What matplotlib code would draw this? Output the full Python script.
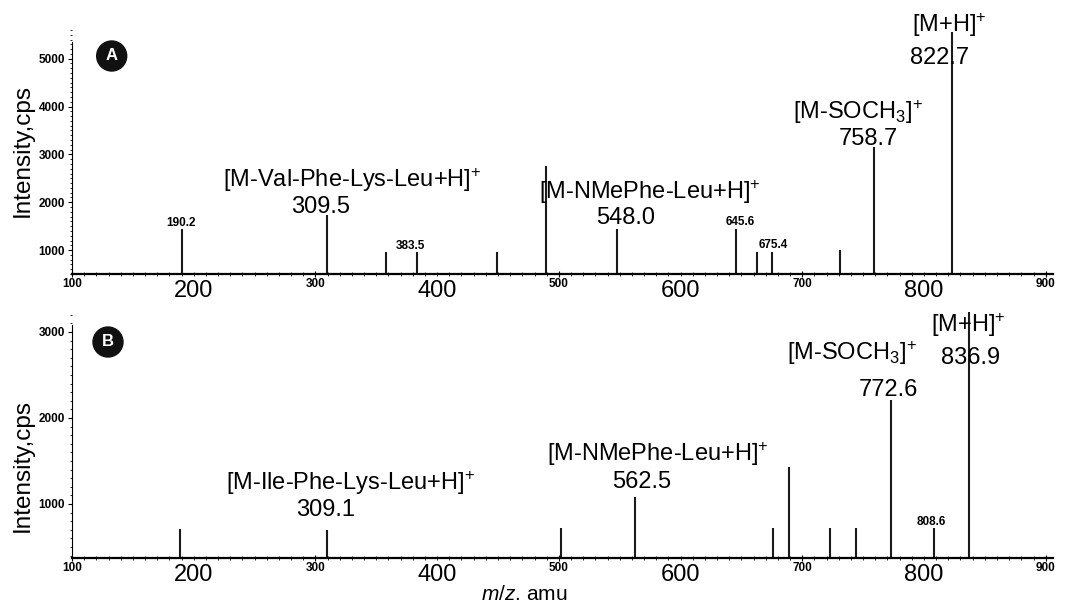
import matplotlib.pyplot as plt
from matplotlib.patches import Ellipse
from matplotlib.ticker import MultipleLocator, FixedLocator

plt.rcParams['font.family'] = ['Liberation Sans', 'DejaVu Sans']
plt.rcParams['mathtext.fontset'] = 'custom'
plt.rcParams['mathtext.rm'] = 'Liberation Sans'
plt.rcParams['mathtext.it'] = 'Liberation Sans:italic'

# panel A peaks (m/z, intensity cps)
mz_a = [190.2, 309.5, 358.0, 383.5, 449.2, 489.5, 548.0, 645.6, 662.9, 675.4, 731.1, 758.7, 822.7]
int_a = [1440, 1730, 960, 960, 960, 2760, 1440, 1440, 960, 960, 1000, 3155, 5560]

# panel B peaks
mz_b = [188.7, 309.1, 501.8, 562.5, 676.0, 689.2, 722.8, 744.2, 772.6, 808.6, 836.9]
int_b = [710, 700, 720, 1080, 720, 1430, 720, 720, 2210, 720, 3230]

# annotations: (text, m/z, intensity, size)
labels_a = [
    ("[M-Val-Phe-Lys-Leu+H]$^{+}$", 330.1, 2466, 17),
    ("309.5", 304.6, 1902, 17),
    ("190.2", 189.6, 1567, 8.5),
    ("383.5", 377.7, 1086, 8.5),
    ("[M-NMePhe-Leu+H]$^{+}$", 574.9, 2215, 17),
    ("548.0", 555.2, 1672, 17),
    ("645.6", 648.8, 1588, 8.5),
    ("675.4", 676.0, 1107, 8.5),
    ("[M-SOCH$_{3}$]$^{+}$", 745.8, 3889, 17),
    ("758.7", 754.1, 3324, 17),
    ("[M+H]$^{+}$", 820.6, 5709, 17),
    ("822.7", 813.2, 5019, 17),
]
labels_b = [
    ("[M-Ile-Phe-Lys-Leu+H]$^{+}$", 329.3, 1244, 17),
    ("309.1", 308.7, 930, 17),
    ("[M-NMePhe-Leu+H]$^{+}$", 581.5, 1581, 17),
    ("562.5", 568.4, 1256, 17),
    ("[M-SOCH$_{3}$]$^{+}$", 740.9, 2756, 17),
    ("772.6", 770.5, 2325, 17),
    ("[M+H]$^{+}$", 836.2, 3081, 17),
    ("836.9", 837.9, 2698, 17),
    ("808.6", 805.8, 791, 8.5),
]

small_x = [100, 300, 500, 700, 900]
big_x = [200, 400, 600, 800]

fig = plt.figure(figsize=(10.67, 6.05), dpi=100)
W, H = 1067, 605
left = 72 / W
width = (1053 - 72) / W

ax_a = fig.add_axes([left, 1 - 274 / H, width, 244 / H])
ax_b = fig.add_axes([left, 1 - 558 / H, width, 247.5 / H])


def setup(ax, mz, inten, labels, ylim, ytop, yticks):
    ax.vlines(mz, ylim[0], inten, color='#1a1a1a', lw=1.5)
    ax.set_xlim(100, 906)
    ax.set_ylim(*ylim)
    for s in ['top', 'right']:
        ax.spines[s].set_visible(False)
    ax.spines['left'].set_bounds(ylim[0], ytop)
    ax.spines['left'].set_linewidth(0.8)
    ax.spines['bottom'].set_linewidth(1.6)
    ax.set_yticks(yticks)
    ax.set_yticklabels([str(v) for v in yticks], fontsize=8.5, fontweight='bold')
    ax.yaxis.set_minor_locator(MultipleLocator(100))
    ax.tick_params(axis='y', which='major', length=3, width=0.8, pad=2)
    ax.tick_params(axis='y', which='minor', length=1.5, width=0.6)
    ax.xaxis.set_major_locator(FixedLocator(small_x))
    ax.set_xticklabels([str(v) for v in small_x], fontsize=8.5, fontweight='bold')
    ax.xaxis.set_minor_locator(MultipleLocator(10))
    ax.tick_params(axis='x', which='major', length=4, width=0.8, direction='inout', pad=1)
    ax.tick_params(axis='x', which='minor', length=3, width=0.6, direction='inout')
    for v in big_x:
        ax.text(v, -0.025, str(v), transform=ax.get_xaxis_transform(),
                ha='center', va='top', fontsize=17)
    for txt, x, y, fs in labels:
        ax.text(x, y, txt, ha='center', va='center', fontsize=fs,
                fontweight='bold' if fs < 10 else 'normal', clip_on=False)
    return ax


setup(ax_a, mz_a, int_a, labels_a, (500, 5600), 5350, [1000, 2000, 3000, 4000, 5000])
setup(ax_b, mz_b, int_b, labels_b, (372, 3250), 3080, [1000, 2000, 3000])

# y labels
for cy in [150, 465]:
    fig.text(23 / W, 1 - cy / H, 'Intensity,cps', rotation=90, ha='center',
             va='center', fontsize=17.5)

# panel letters
for letter, (cx, cy) in [('A', (111.7, 56)), ('B', (108, 342))]:
    fig.patches.append(Ellipse((cx / W, 1 - cy / H), 30 / W, 30 / H,
                               transform=fig.transFigure, color='#111', zorder=5))
    fig.text(cx / W, 1 - cy / H, letter, color='white', ha='center', va='center',
             fontsize=12, fontweight='bold', zorder=6)

fig.text(524 / W, 1 - 594 / H, '$m/z$. amu', ha='center', va='center', fontsize=15)

fig.savefig('out.png', dpi=100)
